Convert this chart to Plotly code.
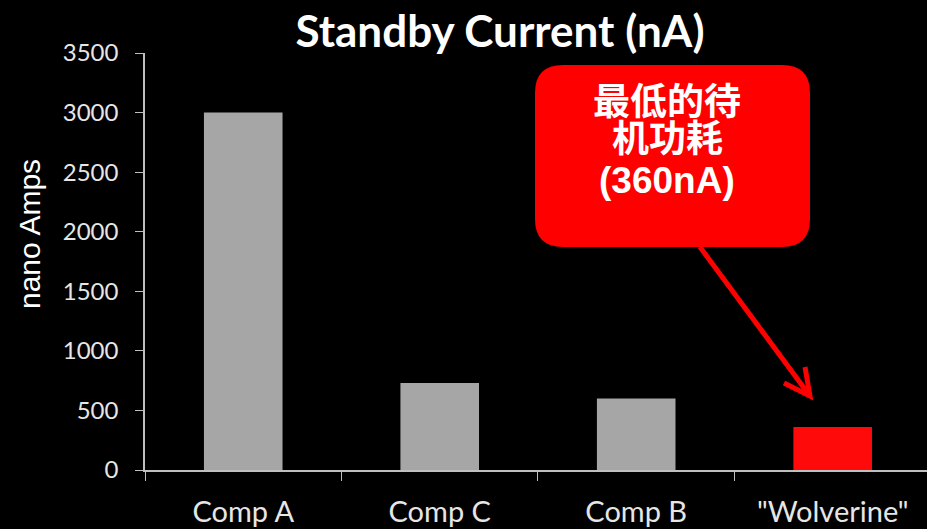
import plotly.graph_objects as go

# Standby current per device (nA)
categories = ["Comp A", "Comp C", "Comp B", "\"Wolverine\""]
standby_na = [3000, 730, 600, 360]
bar_colors = ["#a6a6a6", "#a6a6a6", "#a6a6a6", "#ff0a0a"]
y_ticks = [0, 500, 1000, 1500, 2000, 2500, 3000, 3500]
callout_lines = ["最低的待", "机功耗", "(360nA)"]

W, H = 927, 529
ML, MR, MT, MB = 145, 0, 53, 59
PW, PH = W - ML - MR, H - MT - MB


def px(x):
    return (x - ML) / PW


def py(y):
    return (H - MB - y) / PH


fig = go.Figure(
    go.Bar(
        x=categories,
        y=standby_na,
        marker=dict(color=bar_colors, line=dict(width=0)),
        width=0.4,
    )
)

# rounded callout box (pixel geometry converted to paper coordinates)
x0, x1, y0, y1, r = 535, 810, 65, 247, 28
path = (
    f"M {px(x0 + r)} {py(y0)} L {px(x1 - r)} {py(y0)} "
    f"Q {px(x1)} {py(y0)} {px(x1)} {py(y0 + r)} "
    f"L {px(x1)} {py(y1 - r)} Q {px(x1)} {py(y1)} {px(x1 - r)} {py(y1)} "
    f"L {px(x0 + r)} {py(y1)} Q {px(x0)} {py(y1)} {px(x0)} {py(y1 - r)} "
    f"L {px(x0)} {py(y0 + r)} Q {px(x0)} {py(y0)} {px(x0 + r)} {py(y0)} Z"
)
shapes = [
    dict(type="path", path=path, xref="paper", yref="paper",
         fillcolor="#ff0000", line=dict(width=0), layer="above"),
    # pointer line and open chevron head
    dict(type="path", xref="paper", yref="paper",
         path=f"M {px(700)} {py(247)} L {px(807)} {py(392)}",
         line=dict(color="#ff0000", width=5), layer="above"),
    dict(type="path", xref="paper", yref="paper",
         path=f"M {px(784)} {py(383)} L {px(810)} {py(396)} L {px(805)} {py(367)}",
         line=dict(color="#ff0000", width=5), layer="above"),
]

annotations = [
    dict(text="nano Amps", x=px(29), y=py(234), xref="paper", yref="paper",
         textangle=-90, showarrow=False, xanchor="center", yanchor="middle",
         font=dict(family="Liberation Sans, Arial", size=30, color="#ffffff")),
]
line_y = [102, 139, 180]
for txt, ly in zip(callout_lines, line_y):
    annotations.append(dict(
        text=f"<b>{txt}</b>", x=px(667), y=py(ly), xref="paper", yref="paper",
        showarrow=False, xanchor="center", yanchor="middle",
        font=dict(family="Liberation Sans, Noto Sans CJK SC", size=37, color="#ffffff"),
    ))

fig.update_layout(
    width=W, height=H,
    margin=dict(l=ML, r=MR, t=MT, b=MB),
    paper_bgcolor="#000000",
    plot_bgcolor="#000000",
    showlegend=False,
    title=dict(text="<b>Standby Current (nA)</b>", x=500 / W, xanchor="center",
               y=1 - 32 / H, yanchor="middle",
               font=dict(family="Lato, Open Sans", size=44, color="#ffffff")),
    shapes=shapes,
    annotations=annotations,
    bargap=0.6,
)
fig.update_xaxes(
    range=[-0.5, 3.48], showgrid=False, zeroline=False,
    showline=True, linecolor="#bfbfbf", linewidth=1.5,
    ticks="outside", tickson="boundaries", ticklen=9, tickcolor="#bfbfbf",
    tickfont=dict(family="Lato, Open Sans", size=29, color="#e6e6e6"),
    ticklabelstandoff=15,
)
fig.update_yaxes(
    range=[0, 3500], tickvals=y_ticks, showgrid=False, zeroline=False,
    showline=True, linecolor="#bfbfbf", linewidth=1.5,
    ticks="outside", ticklen=8, tickcolor="#bfbfbf",
    tickfont=dict(family="Lato, Open Sans", size=24, color="#e6e6e6"),
    ticklabelstandoff=12,
)

fig.write_html("out.html")
